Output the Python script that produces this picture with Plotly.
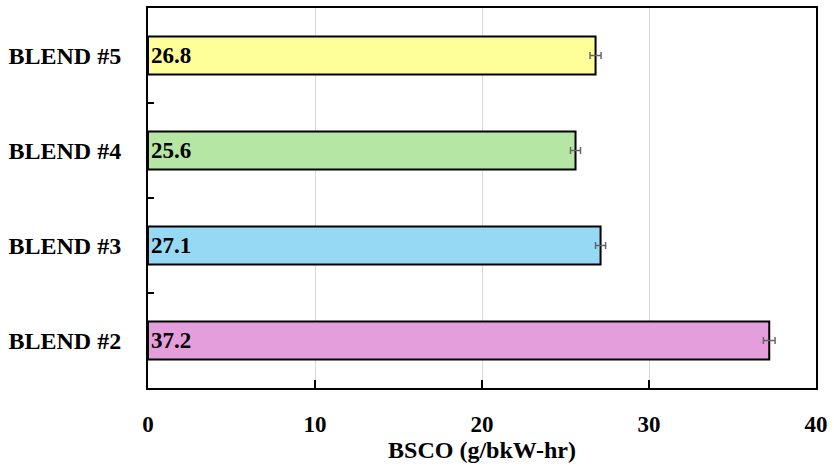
import plotly.graph_objects as go

categories = ["BLEND #2", "BLEND #3", "BLEND #4", "BLEND #5"]
values = [37.2, 27.1, 25.6, 26.8]
errors = [0.35, 0.3, 0.3, 0.33]
colors = ["#E49EDB", "#96D9F5", "#B5E6A3", "#FFFF99"]
x_ticks = [0, 10, 20, 30, 40]

FONT = "Liberation Serif"

fig = go.Figure()
fig.add_trace(go.Bar(
    y=categories, x=values, orientation="h",
    marker=dict(color=colors, line=dict(color="black", width=2)),
    width=0.4,
    text=[f"{v:.1f}" for v in values],
    textposition="inside", insidetextanchor="start",
    textfont=dict(family=FONT, size=23, color="black", weight="bold"),
    error_x=dict(type="data", array=errors, color="#666666", thickness=1.5, width=3.5),
    cliponaxis=False,
))

fig.update_layout(
    width=834, height=473,
    margin=dict(l=148, r=17, t=6, b=85),
    plot_bgcolor="white", paper_bgcolor="white",
    showlegend=False,
    font=dict(family=FONT, size=22, color="black", weight="bold"),
)
fig.update_xaxes(
    range=[0, 40], tickvals=x_ticks, ticktext=[str(t) for t in x_ticks],
    showgrid=True, gridcolor="#D9D9D9", gridwidth=1,
    showline=True, linecolor="black", linewidth=2, mirror=True,
    ticks="inside", ticklen=8, tickcolor="black", tickwidth=1.5,
    zeroline=False,
    ticklabelstandoff=14,
    tickfont=dict(family=FONT, size=23, color="black", weight="bold"),
    title=dict(text="BSCO (g/bkW-hr)", standoff=6,
               font=dict(family=FONT, size=24, color="black", weight="bold")),
)
fig.update_yaxes(
    categoryorder="array", categoryarray=categories,
    range=[-0.5, 3.5],
    showgrid=False,
    showline=True, linecolor="black", linewidth=2, mirror=True,
    ticks="inside", ticklen=6, tickcolor="black", tickwidth=1.5,
    tickson="boundaries",
    ticklabelstandoff=20,
    tickfont=dict(family=FONT, size=24, color="black", weight="bold"),
)

fig.write_html("out.html")
